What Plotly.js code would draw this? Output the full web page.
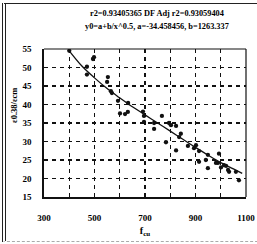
<!DOCTYPE html>
<html><head><meta charset="utf-8">
<script src="https://cdn.plot.ly/plotly-3.0.1.min.js"></script>
<style>
html,body{margin:0;padding:0;background:#fff;}
#wrap{position:relative;width:257px;height:244px;overflow:hidden;}
#chart{position:absolute;left:0;top:0;width:257px;height:244px;}
#frame{position:absolute;left:2px;top:3px;width:262px;height:237px;border-left:4px double #222;border-top:1.5px solid #222;border-bottom:1px dashed #aaa;pointer-events:none;}
</style></head>
<body><div id="wrap"><div id="chart"></div><div id="frame"></div></div>
<script>
const fcu = [400,494,498,470,470,553,550,569,593,633,601,621,632,692,696,696,736,736,767,795,803,823,842,835,783,823,870,894,902,914,949,993,941,989,1013,1021,1033,1060,1072,914,949,981,1001,1029,565];
const ratio = [54.5,52.3,52.8,50.2,48.1,47.4,46.1,43.1,41.0,40.4,37.6,37.4,38.0,38.1,36.9,35.3,35.0,33.4,36.9,35.0,34.4,34.2,32.1,31.2,29.8,27.6,28.8,28.2,29.0,27.4,26.4,26.7,25.0,24.2,23.6,23.4,21.8,21.8,19.5,24.5,22.8,24.2,23.0,22.3,43.6];
const fitX = [400,450,500,550,600,650,700,750,800,850,900,950,1000,1050,1085];
const fitY = [54.5,50.4,47.2,44.3,41.8,39.4,37.2,35.0,32.8,30.6,28.4,26.3,24.3,22.6,21.4];
const xTicks = [300,500,700,900,1100];
const yTicks = [15,20,25,30,35,40,45,50,55];
const titleLines = ["r2=0.93405365 DF Adj r2=0.93059404","y0=a+b/x^0.5, a=-34.458456, b=1263.337"];
const yTitle = "ε0.38/εcm";

const serif = "Liberation Serif, Times New Roman, serif";
const data = [
  {x: fcu, y: ratio, type:'scatter', mode:'markers', marker:{color:'#111', size:4.3}, hoverinfo:'skip'},
  {x: fitX, y: fitY, type:'scatter', mode:'lines', line:{color:'#111', width:1.3, shape:'spline'}, hoverinfo:'skip'}
];
const tfont = {family:serif, size:8.3, color:'#000', weight:700};
const layout = {
  width:257, height:244,
  margin:{l:44, r:11, t:49, b:47},
  paper_bgcolor:'#fff', plot_bgcolor:'#fff',
  showlegend:false,
  xaxis:{range:[300,1100], tickvals:xTicks, ticktext:xTicks.map(String), showgrid:false,
    ticks:'', ticklabelstandoff:12, tickfont:{family:serif, size:9, color:'#000', weight:700},
    showline:true, linecolor:'#111', linewidth:1.6, mirror:false, zeroline:false,
    title:{text:'f<sub>cu</sub>', font:{family:serif, size:10, color:'#000', weight:700}, standoff:4},
    minor:{dtick:100, tick0:300, showgrid:true, gridcolor:'#111', griddash:'4px,4px', gridwidth:1.1, ticks:''}},
  yaxis:{range:[15,55], tickvals:yTicks, ticktext:yTicks.map(String), showgrid:true, gridcolor:'#111', griddash:'4px,4px', gridwidth:1.1,
    ticks:'', ticklabelstandoff:9, tickfont:{family:serif, size:9, color:'#000', weight:700},
    showline:true, linecolor:'#111', linewidth:1.6, zeroline:false},
  annotations:[
    {text:titleLines[0], xref:'paper', yref:'paper', x:0.56, y:1.243, xanchor:'center', yanchor:'middle', showarrow:false, font:tfont},
    {text:titleLines[1], xref:'paper', yref:'paper', x:0.56, y:1.155, xanchor:'center', yanchor:'middle', showarrow:false, font:tfont},
    {text:yTitle, xref:'paper', yref:'paper', x:-0.145, y:0.62, xanchor:'center', yanchor:'middle', textangle:-90, showarrow:false, font:{family:serif, size:8.5, color:'#000', weight:700}}
  ],
  shapes:[
    {type:'line', xref:'paper', yref:'paper', x0:0, x1:1, y0:1, y1:1, line:{color:'#111', width:1.2}},
    {type:'line', xref:'paper', yref:'paper', x0:1, x1:1, y0:0, y1:1, line:{color:'#111', width:1.2}}
  ]
};
Plotly.newPlot('chart', data, layout, {staticPlot:true, displayModeBar:false});
</script></body></html>
